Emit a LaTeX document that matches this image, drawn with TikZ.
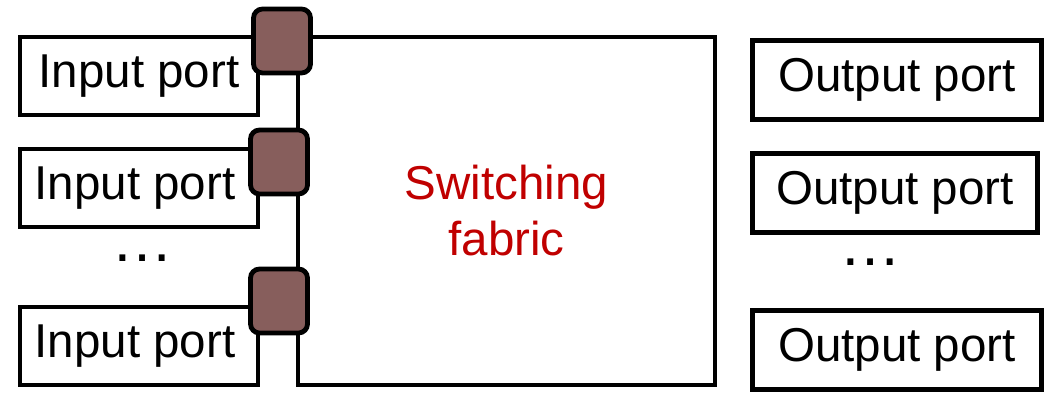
\documentclass[tikz,border=0pt]{standalone}
\usepackage{fontspec}
\setmainfont{Liberation Sans}
\definecolor{portbrown}{HTML}{875E5C}
\definecolor{fabricred}{HTML}{C00000}
\begin{document}
\begin{tikzpicture}[x=1pt,y=-1pt,
  every node/.style={inner sep=0pt,font=\fontsize{47.5}{56}\selectfont},
  port/.style={draw,line width=4.8pt,fill=white,minimum width=238pt,minimum height=78pt},
  outport/.style={draw,line width=4.8pt,fill=white,minimum width=289pt,minimum height=79pt},
  queue/.style={draw,line width=4.8pt,fill=portbrown,rounded corners=9pt,minimum width=57pt,minimum height=64pt},
  fabricbox/.style={draw,line width=4.8pt,minimum width=417pt,minimum height=348pt,align=center,text=fabricred},
  dotsnode/.style={font=\fontsize{62}{70}\selectfont}]
\useasboundingbox (0,0) rectangle (1056,393);
\node[fabricbox] (fabric) at (506.5,211) {Switching\\fabric};
\node[port] (in1) at (139,76) {Input port};
\node[port] (in2) at (139,188) {\hspace*{-8pt}Input port};
\node[port] (in3) at (139,346) {\hspace*{-8pt}Input port};
\node[queue] (q1) at (282,41) {};
\node[queue] (q2) at (279,162) {};
\node[queue] (q3) at (279,301) {};
\node[dotsnode] (ldots) at (142,258) {\ldots};
\node[outport] (out1) at (897,80) {Output port};
\node[outport,minimum width=285pt] (out2) at (895,193) {Output port};
\node[outport] (out3) at (897,350) {Output port};
\node[dotsnode] (rdots) at (870,262) {\ldots};
\end{tikzpicture}
\end{document}
